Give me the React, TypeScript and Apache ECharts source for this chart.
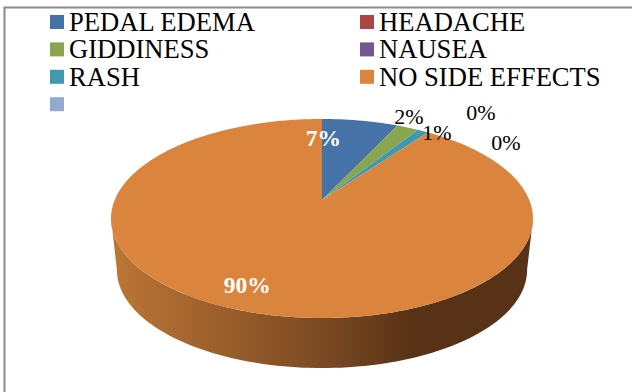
import React, { useEffect, useRef } from "react";
import * as echarts from "echarts";

const sliceNames = ["PEDAL EDEMA", "HEADACHE", "GIDDINESS", "NAUSEA", "RASH", "NO SIDE EFFECTS"];
const sliceValues = [7, 0, 2, 0, 1, 90];
const sliceColors = ["#4572a7", "#aa4643", "#89a54e", "#71588f", "#4198af", "#db843d"];
const spareName = " ";
const spareColor = "#93a9cf";
const leftLegendNames = ["PEDAL EDEMA", "GIDDINESS", "RASH", spareName];
const rightLegendNames = ["HEADACHE", "NAUSEA", "NO SIDE EFFECTS"];

// Label offsets from the midpoint of each slice's outer edge, in slice order.
const labelOffsets: Record<string, [number, number]> = {
  "PEDAL EDEMA": [-37, 17],
  HEADACHE: [53, -20],
  GIDDINESS: [1, -11],
  NAUSEA: [78, 10],
  RASH: [14, 1],
  "NO SIDE EFFECTS": [3, -26],
};
const whiteLabels = new Set(["PEDAL EDEMA", "NO SIDE EFFECTS"]);

// Perspective of the disc: its plane is tilted, so the hub sits above the centre of the ellipse.
const HUB_X = 322;
const HUB_Y = 200;
const RADIUS = 207.3;
const TILT_K = -0.186;
const TILT_A = 58.9;
const WAIST_Y = 218.6;
const DEPTH = 51.5;
const LOWER_SCALE_X = 0.972;
const LOWER_SCALE_Y = 0.985;
const SERIF = '"Liberation Serif", "Times New Roman", serif';

const project = (deg: number): [number, number] => {
  const t = (deg * Math.PI) / 180;
  const u = Math.sin(t);
  const v = -Math.cos(t);
  const d = 1 + TILT_K * v;
  return [HUB_X + (RADIUS * u) / d, (HUB_Y + TILT_A * v) / d];
};
const lower = ([x, y]: [number, number]): [number, number] => [
  HUB_X + (x - HUB_X) * LOWER_SCALE_X,
  WAIST_Y + (y - WAIST_Y) * LOWER_SCALE_Y + DEPTH,
];

const total = sliceValues.reduce((a, b) => a + b, 0);
// Slices run clockwise from twelve o'clock in the order they are stacked here.
const stackOrder = [0, 2, 4, 1, 3, 5];
const startDeg: number[] = [];
{
  let sum = 0;
  stackOrder.forEach((i) => {
    startDeg[i] = (sum / total) * 360;
    sum += sliceValues[i];
  });
}

const arcPoints = (from: number, to: number): [number, number][] => {
  const n = Math.max(2, Math.ceil((to - from) / 1.5));
  return Array.from({ length: n + 1 }, (_, i) => project(from + ((to - from) * i) / n));
};

const SIDE_FROM = 100.7;
const SIDE_TO = 259.3;

const renderSlice = (index: number) => (_params: any, api: any) => {
  const value = api.value(0) as number;
  const from = startDeg[index];
  const to = from + (value / total) * 360;
  const children: any[] = [];
  const a = Math.max(from, SIDE_FROM);
  const b = Math.min(to, SIDE_TO);
  if (b > a) {
    const top = arcPoints(a, b);
    children.push({
      type: "polygon",
      shape: { points: [...top, ...top.slice().reverse().map(lower)] },
      style: {
        fill: new echarts.graphic.LinearGradient(0, 0, 1, 0, [
          { offset: 0, color: "#bd7635" },
          { offset: 0.5, color: "#7b4a23" },
          { offset: 0.72, color: "#573216" },
          { offset: 1, color: "#573216" },
        ]),
      },
    });
  }
  if (value > 0) {
    children.push({
      type: "polygon",
      shape: { points: [[HUB_X, HUB_Y], ...arcPoints(from, to)] },
      style: { fill: sliceColors[index] },
    });
  }
  const [mx, my] = project((from + to) / 2);
  const name = sliceNames[index];
  const [dx, dy] = labelOffsets[name];
  const white = whiteLabels.has(name);
  children.push({
    type: "text",
    x: mx + dx,
    y: my + dy,
    z2: 10,
    style: {
      text: `${Math.round((value / total) * 100)}%`,
      fill: white ? "#ffffff" : "#000000",
      font: white ? `bold 23.5px ${SERIF}` : `22px ${SERIF}`,
      align: "center",
      verticalAlign: "middle",
    },
  });
  return { type: "group", children };
};

const legendBase = {
  orient: "vertical" as const,
  icon: "rect",
  itemWidth: 14,
  itemHeight: 14,
  itemGap: 0,
  padding: 0,
  selectedMode: false,
  textStyle: {
    fontFamily: SERIF,
    fontSize: 26.6,
    color: "#000000",
    lineHeight: 25.4,
    padding: [0, 0, 2, 0],
  },
};

export default function App() {
  const ref = useRef<HTMLDivElement>(null);
  useEffect(() => {
    const chart = echarts.init(ref.current!, undefined, { renderer: "svg" });
    chart.setOption({
      animation: false,
      backgroundColor: "#ffffff",
      legend: [
        { ...legendBase, left: 50, top: 8.3, data: leftLegendNames },
        { ...legendBase, left: 360, top: 8.3, data: rightLegendNames },
      ],
      series: [
        ...sliceNames.map((name, i) => ({
          type: "custom",
          name,
          coordinateSystem: "none",
          itemStyle: { color: sliceColors[i] },
          data: [[sliceValues[i]]],
          renderItem: renderSlice(i),
          silent: true,
        })),
        {
          type: "custom",
          name: spareName,
          coordinateSystem: "none",
          itemStyle: { color: spareColor },
          data: [],
          renderItem: () => ({ type: "group", children: [] }),
          silent: true,
        },
      ],
      graphic: [
        {
          type: "polyline",
          shape: { points: [[4.5, 392], [4.5, 7.5], [632, 7.5]] },
          style: { stroke: "#8a8a8a", lineWidth: 2, fill: "none" },
        },
      ],
    });
    return () => chart.dispose();
  }, []);
  return <div ref={ref} style={{ position: "fixed", left: 0, top: 0, width: 632, height: 392 }} />;
}
